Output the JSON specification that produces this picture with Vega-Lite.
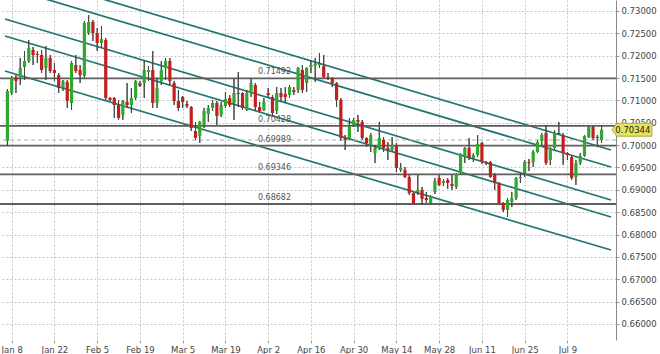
{
  "$schema": "https://vega.github.io/schema/vega-lite/v6.json",
  "width": 616,
  "height": 340,
  "autosize": "none",
  "padding": {"left": 0, "top": 0, "right": 44, "bottom": 14},
  "background": "white",
  "config": {
    "view": {"stroke": null},
    "axis": {
      "gridColor": "#c4c4c4",
      "gridDash": [2, 2],
      "gridWidth": 1,
      "labelFont": "DejaVu Sans",
      "labelFontSize": 8.5,
      "labelColor": "#444444",
      "tickColor": "#999999",
      "tickSize": 3,
      "labelPadding": 2,
      "labelOverlap": false,
      "labelBound": false,
      "labelFlush": false
    },
    "axisY": {"tickCount": 15}
  },
  "datasets": {
    "candles": [
      {"i": -1, "o": 0.70092, "h": 0.71255, "l": 0.69980, "c": 0.71211},
      {"i": 0, "o": 0.71166, "h": 0.71546, "l": 0.71121, "c": 0.71501},
      {"i": 1, "o": 0.71523, "h": 0.71568, "l": 0.71166, "c": 0.71434},
      {"i": 2, "o": 0.71501, "h": 0.71949, "l": 0.71344, "c": 0.71725},
      {"i": 3, "o": 0.71747, "h": 0.72105, "l": 0.71456, "c": 0.71882},
      {"i": 4, "o": 0.71882, "h": 0.72351, "l": 0.71837, "c": 0.72172},
      {"i": 5, "o": 0.72128, "h": 0.72195, "l": 0.71792, "c": 0.72016},
      {"i": 6, "o": 0.72038, "h": 0.72105, "l": 0.71837, "c": 0.72016},
      {"i": 7, "o": 0.72016, "h": 0.72128, "l": 0.71613, "c": 0.71680},
      {"i": 8, "o": 0.71725, "h": 0.72217, "l": 0.71456, "c": 0.71949},
      {"i": 9, "o": 0.71949, "h": 0.72016, "l": 0.71613, "c": 0.71658},
      {"i": 10, "o": 0.71680, "h": 0.71837, "l": 0.71434, "c": 0.71613},
      {"i": 11, "o": 0.71568, "h": 0.71613, "l": 0.71166, "c": 0.71277},
      {"i": 12, "o": 0.71277, "h": 0.71456, "l": 0.71211, "c": 0.71434},
      {"i": 13, "o": 0.71411, "h": 0.71456, "l": 0.70830, "c": 0.70987},
      {"i": 14, "o": 0.70942, "h": 0.71882, "l": 0.70785, "c": 0.71837},
      {"i": 15, "o": 0.71792, "h": 0.72016, "l": 0.71613, "c": 0.71658},
      {"i": 16, "o": 0.71680, "h": 0.71792, "l": 0.71389, "c": 0.71568},
      {"i": 17, "o": 0.71546, "h": 0.72777, "l": 0.71501, "c": 0.72732},
      {"i": 18, "o": 0.72508, "h": 0.72911, "l": 0.72463, "c": 0.72754},
      {"i": 19, "o": 0.72754, "h": 0.72799, "l": 0.72329, "c": 0.72508},
      {"i": 20, "o": 0.72508, "h": 0.72620, "l": 0.72105, "c": 0.72284},
      {"i": 21, "o": 0.72284, "h": 0.72665, "l": 0.72172, "c": 0.72374},
      {"i": 22, "o": 0.72351, "h": 0.72396, "l": 0.71009, "c": 0.71054},
      {"i": 23, "o": 0.71054, "h": 0.71076, "l": 0.70987, "c": 0.71009},
      {"i": 24, "o": 0.71054, "h": 0.71076, "l": 0.70606, "c": 0.70897},
      {"i": 25, "o": 0.70897, "h": 0.71009, "l": 0.70562, "c": 0.70606},
      {"i": 26, "o": 0.70674, "h": 0.71009, "l": 0.70562, "c": 0.70987},
      {"i": 27, "o": 0.70964, "h": 0.71389, "l": 0.70830, "c": 0.70897},
      {"i": 28, "o": 0.70897, "h": 0.71277, "l": 0.70718, "c": 0.71054},
      {"i": 29, "o": 0.71054, "h": 0.71456, "l": 0.71009, "c": 0.71434},
      {"i": 30, "o": 0.71389, "h": 0.71434, "l": 0.71300, "c": 0.71322},
      {"i": 31, "o": 0.71389, "h": 0.71882, "l": 0.71054, "c": 0.71680},
      {"i": 32, "o": 0.71635, "h": 0.71770, "l": 0.71434, "c": 0.71680},
      {"i": 33, "o": 0.71680, "h": 0.72105, "l": 0.70830, "c": 0.70942},
      {"i": 34, "o": 0.70942, "h": 0.71501, "l": 0.70830, "c": 0.71277},
      {"i": 35, "o": 0.71434, "h": 0.71882, "l": 0.71344, "c": 0.71680},
      {"i": 36, "o": 0.71725, "h": 0.71949, "l": 0.71456, "c": 0.71882},
      {"i": 37, "o": 0.71882, "h": 0.71949, "l": 0.71344, "c": 0.71434},
      {"i": 38, "o": 0.71389, "h": 0.71434, "l": 0.70897, "c": 0.70987},
      {"i": 39, "o": 0.70987, "h": 0.71233, "l": 0.70763, "c": 0.70830},
      {"i": 40, "o": 0.71076, "h": 0.71099, "l": 0.70830, "c": 0.70964},
      {"i": 41, "o": 0.70920, "h": 0.70987, "l": 0.70830, "c": 0.70875},
      {"i": 42, "o": 0.70852, "h": 0.70875, "l": 0.70316, "c": 0.70383},
      {"i": 43, "o": 0.70316, "h": 0.70517, "l": 0.70114, "c": 0.70159},
      {"i": 44, "o": 0.70204, "h": 0.70539, "l": 0.70047, "c": 0.70517},
      {"i": 45, "o": 0.70450, "h": 0.70830, "l": 0.70383, "c": 0.70763},
      {"i": 46, "o": 0.70696, "h": 0.70897, "l": 0.70517, "c": 0.70830},
      {"i": 47, "o": 0.70830, "h": 0.71009, "l": 0.70763, "c": 0.70942},
      {"i": 48, "o": 0.70942, "h": 0.70987, "l": 0.70450, "c": 0.70651},
      {"i": 49, "o": 0.70674, "h": 0.70964, "l": 0.70629, "c": 0.70897},
      {"i": 50, "o": 0.70875, "h": 0.71188, "l": 0.70830, "c": 0.71032},
      {"i": 51, "o": 0.71054, "h": 0.71121, "l": 0.70852, "c": 0.70897},
      {"i": 52, "o": 0.70942, "h": 0.71501, "l": 0.70562, "c": 0.71166},
      {"i": 53, "o": 0.71166, "h": 0.71635, "l": 0.70852, "c": 0.71144},
      {"i": 54, "o": 0.71166, "h": 0.71188, "l": 0.70785, "c": 0.70830},
      {"i": 55, "o": 0.70785, "h": 0.71233, "l": 0.70763, "c": 0.71166},
      {"i": 56, "o": 0.71166, "h": 0.71501, "l": 0.71076, "c": 0.71389},
      {"i": 57, "o": 0.71344, "h": 0.71389, "l": 0.70763, "c": 0.70852},
      {"i": 58, "o": 0.70852, "h": 0.70964, "l": 0.70718, "c": 0.70763},
      {"i": 59, "o": 0.70785, "h": 0.71054, "l": 0.70763, "c": 0.70964},
      {"i": 60, "o": 0.71166, "h": 0.71277, "l": 0.71054, "c": 0.71121},
      {"i": 61, "o": 0.71076, "h": 0.71121, "l": 0.70651, "c": 0.70718},
      {"i": 62, "o": 0.70763, "h": 0.71300, "l": 0.70696, "c": 0.71166},
      {"i": 63, "o": 0.71166, "h": 0.71277, "l": 0.70964, "c": 0.71076},
      {"i": 64, "o": 0.71144, "h": 0.71300, "l": 0.70942, "c": 0.71076},
      {"i": 65, "o": 0.71121, "h": 0.71344, "l": 0.71054, "c": 0.71300},
      {"i": 66, "o": 0.71233, "h": 0.71300, "l": 0.71121, "c": 0.71188},
      {"i": 67, "o": 0.71233, "h": 0.71747, "l": 0.71166, "c": 0.71725},
      {"i": 68, "o": 0.71680, "h": 0.71792, "l": 0.71166, "c": 0.71233},
      {"i": 69, "o": 0.71389, "h": 0.71747, "l": 0.71188, "c": 0.71725},
      {"i": 70, "o": 0.71747, "h": 0.71904, "l": 0.71613, "c": 0.71792},
      {"i": 71, "o": 0.71770, "h": 0.71949, "l": 0.71411, "c": 0.71814},
      {"i": 72, "o": 0.71792, "h": 0.72061, "l": 0.71725, "c": 0.71814},
      {"i": 73, "o": 0.71770, "h": 0.72016, "l": 0.71501, "c": 0.71523},
      {"i": 74, "o": 0.71523, "h": 0.71613, "l": 0.71456, "c": 0.71501},
      {"i": 75, "o": 0.71501, "h": 0.71523, "l": 0.71300, "c": 0.71389},
      {"i": 76, "o": 0.71389, "h": 0.71411, "l": 0.70852, "c": 0.71009},
      {"i": 77, "o": 0.71009, "h": 0.71054, "l": 0.70092, "c": 0.70159},
      {"i": 78, "o": 0.70159, "h": 0.70226, "l": 0.69890, "c": 0.70114},
      {"i": 79, "o": 0.70159, "h": 0.70606, "l": 0.70114, "c": 0.70427},
      {"i": 80, "o": 0.70450, "h": 0.70606, "l": 0.70405, "c": 0.70562},
      {"i": 81, "o": 0.70562, "h": 0.70674, "l": 0.70293, "c": 0.70517},
      {"i": 82, "o": 0.70517, "h": 0.70562, "l": 0.70114, "c": 0.70159},
      {"i": 83, "o": 0.70159, "h": 0.70181, "l": 0.69957, "c": 0.70047},
      {"i": 84, "o": 0.70003, "h": 0.70271, "l": 0.69845, "c": 0.70226},
      {"i": 85, "o": 0.69823, "h": 0.70003, "l": 0.69600, "c": 0.69935},
      {"i": 86, "o": 0.69935, "h": 0.70517, "l": 0.69890, "c": 0.70159},
      {"i": 87, "o": 0.70114, "h": 0.70181, "l": 0.69845, "c": 0.69935},
      {"i": 88, "o": 0.69935, "h": 0.70069, "l": 0.69667, "c": 0.69890},
      {"i": 89, "o": 0.69890, "h": 0.70181, "l": 0.69845, "c": 0.70003},
      {"i": 90, "o": 0.70003, "h": 0.70047, "l": 0.69398, "c": 0.69488},
      {"i": 91, "o": 0.69443, "h": 0.69600, "l": 0.69398, "c": 0.69488},
      {"i": 92, "o": 0.69443, "h": 0.69510, "l": 0.69264, "c": 0.69287},
      {"i": 93, "o": 0.69287, "h": 0.69331, "l": 0.68884, "c": 0.68929},
      {"i": 94, "o": 0.68929, "h": 0.68951, "l": 0.68660, "c": 0.68683},
      {"i": 95, "o": 0.68951, "h": 0.69331, "l": 0.68884, "c": 0.68996},
      {"i": 96, "o": 0.68996, "h": 0.69063, "l": 0.68660, "c": 0.68794},
      {"i": 97, "o": 0.68817, "h": 0.68951, "l": 0.68705, "c": 0.68772},
      {"i": 98, "o": 0.68705, "h": 0.68884, "l": 0.68660, "c": 0.68862},
      {"i": 99, "o": 0.68951, "h": 0.69264, "l": 0.68906, "c": 0.69197},
      {"i": 100, "o": 0.69264, "h": 0.69331, "l": 0.69084, "c": 0.69107},
      {"i": 101, "o": 0.69152, "h": 0.69242, "l": 0.69084, "c": 0.69197},
      {"i": 102, "o": 0.69219, "h": 0.69264, "l": 0.69018, "c": 0.69152},
      {"i": 103, "o": 0.69130, "h": 0.69331, "l": 0.68996, "c": 0.69084},
      {"i": 104, "o": 0.69063, "h": 0.69376, "l": 0.69018, "c": 0.69354},
      {"i": 105, "o": 0.69376, "h": 0.69823, "l": 0.69331, "c": 0.69801},
      {"i": 106, "o": 0.69734, "h": 0.69957, "l": 0.69600, "c": 0.69935},
      {"i": 107, "o": 0.69935, "h": 0.70159, "l": 0.69667, "c": 0.69712},
      {"i": 108, "o": 0.69712, "h": 0.69823, "l": 0.69622, "c": 0.69778},
      {"i": 109, "o": 0.69778, "h": 0.70226, "l": 0.69734, "c": 0.70025},
      {"i": 110, "o": 0.70047, "h": 0.70069, "l": 0.69577, "c": 0.69622},
      {"i": 111, "o": 0.69622, "h": 0.69645, "l": 0.69555, "c": 0.69600},
      {"i": 112, "o": 0.69622, "h": 0.69645, "l": 0.69264, "c": 0.69287},
      {"i": 113, "o": 0.69331, "h": 0.69376, "l": 0.68996, "c": 0.69152},
      {"i": 114, "o": 0.69152, "h": 0.69174, "l": 0.68660, "c": 0.68705},
      {"i": 115, "o": 0.68705, "h": 0.68727, "l": 0.68504, "c": 0.68548},
      {"i": 116, "o": 0.68548, "h": 0.68817, "l": 0.68392, "c": 0.68772},
      {"i": 117, "o": 0.68727, "h": 0.68951, "l": 0.68615, "c": 0.68817},
      {"i": 118, "o": 0.68817, "h": 0.69286, "l": 0.68772, "c": 0.69264},
      {"i": 119, "o": 0.69264, "h": 0.69376, "l": 0.69152, "c": 0.69286},
      {"i": 120, "o": 0.69376, "h": 0.69667, "l": 0.69286, "c": 0.69622},
      {"i": 121, "o": 0.69622, "h": 0.69689, "l": 0.69420, "c": 0.69600},
      {"i": 122, "o": 0.69622, "h": 0.69890, "l": 0.69510, "c": 0.69846},
      {"i": 123, "o": 0.69846, "h": 0.70114, "l": 0.69823, "c": 0.70069},
      {"i": 124, "o": 0.70092, "h": 0.70271, "l": 0.70003, "c": 0.70226},
      {"i": 125, "o": 0.70271, "h": 0.70450, "l": 0.69555, "c": 0.69600},
      {"i": 126, "o": 0.69667, "h": 0.69957, "l": 0.69555, "c": 0.69935},
      {"i": 127, "o": 0.69935, "h": 0.70338, "l": 0.69890, "c": 0.70271},
      {"i": 128, "o": 0.70271, "h": 0.70517, "l": 0.70226, "c": 0.70249},
      {"i": 129, "o": 0.70226, "h": 0.70271, "l": 0.69555, "c": 0.69823},
      {"i": 130, "o": 0.69823, "h": 0.69846, "l": 0.69667, "c": 0.69778},
      {"i": 131, "o": 0.69734, "h": 0.69778, "l": 0.69219, "c": 0.69264},
      {"i": 132, "o": 0.69286, "h": 0.69667, "l": 0.69107, "c": 0.69600},
      {"i": 133, "o": 0.69600, "h": 0.69823, "l": 0.69555, "c": 0.69757},
      {"i": 134, "o": 0.69757, "h": 0.70226, "l": 0.69734, "c": 0.70204},
      {"i": 135, "o": 0.70181, "h": 0.70450, "l": 0.70159, "c": 0.70405},
      {"i": 136, "o": 0.70405, "h": 0.70450, "l": 0.70114, "c": 0.70159},
      {"i": 137, "o": 0.70181, "h": 0.70226, "l": 0.69957, "c": 0.70159},
      {"i": 138, "o": 0.70114, "h": 0.70450, "l": 0.70047, "c": 0.70344}
    ],
    "channels": [
      {"i1": -1.565, "p1": 0.73917, "i2": 140.2, "p2": 0.69890},
      {"i1": -1.565, "p1": 0.73537, "i2": 140.2, "p2": 0.69510},
      {"i1": -1.565, "p1": 0.72821, "i2": 140.2, "p2": 0.68772},
      {"i1": -1.565, "p1": 0.72441, "i2": 140.2, "p2": 0.68392},
      {"i1": -1.565, "p1": 0.71658, "i2": 140.2, "p2": 0.67653}
    ],
    "levels": [
      {"p": 0.71492, "label": "0.71492"},
      {"p": 0.70428, "label": "0.70428"},
      {"p": 0.69989, "label": "0.69989"},
      {"p": 0.69346, "label": "0.69346"},
      {"p": 0.68682, "label": "0.68682"}
    ],
    "ask": [{"p": 0.70114}],
    "last": [{"i": 140.43, "it": 141.2, "p": 0.70344, "label": "0.70344"}]
  },
  "layer": [
    {
      "data": {"name": "candles"},
      "mark": {"type": "rule", "color": "#444444", "strokeWidth": 1},
      "encoding": {
        "x": {
          "field": "i", "type": "quantitative", "title": null,
          "scale": {"domain": [-1.565, 140.2], "nice": false, "zero": false},
          "axis": {
            "orient": "bottom",
            "values": [0, 10, 20, 30, 40, 50, 60, 70, 80, 90, 100, 110, 120, 130],
            "labelExpr": "['Jan 8','Jan 22','Feb 5','Feb 19','Mar 5','Mar 19','Apr 2','Apr 16','Apr 30','May 14','May 28','Jun 11','Jun 25','Jul 9'][round(datum.value/10)]",
            "domain": false,
            "grid": true,
            "labelOverlap": false
          }
        },
        "y": {
          "field": "l", "type": "quantitative", "title": null,
          "scale": {"domain": [0.6564, 0.73246], "nice": false, "zero": false},
          "axis": {
            "orient": "right",
            "values": [0.66, 0.665, 0.67, 0.675, 0.68, 0.685, 0.69, 0.695, 0.7, 0.705, 0.71, 0.715, 0.72, 0.725, 0.73],
            "tickCount": 15,
            "format": ".5f",
            "domain": true,
            "domainColor": "#8a8a8a",
            "grid": true,
            "labelOverlap": false
          }
        },
        "y2": {"field": "h"}
      }
    },
    {
      "data": {"name": "channels"},
      "mark": {"type": "rule", "color": "#217570", "strokeWidth": 1.7, "clip": true},
      "encoding": {
        "x": {"field": "i1", "type": "quantitative", "title": null},
        "x2": {"field": "i2"},
        "y": {"field": "p1", "type": "quantitative", "title": null},
        "y2": {"field": "p2"}
      }
    },
    {
      "data": {"name": "ask"},
      "mark": {"type": "rule", "color": "#aaaaaa", "strokeWidth": 1, "strokeDash": [4, 3]},
      "encoding": {
        "y": {"field": "p", "type": "quantitative", "title": null}
      }
    },
    {
      "data": {"name": "levels"},
      "mark": {"type": "rule", "color": "#5e5e5e", "strokeWidth": 1.8},
      "encoding": {
        "y": {"field": "p", "type": "quantitative", "title": null}
      }
    },
    {
      "data": {"name": "levels"},
      "mark": {"type": "text", "align": "left", "baseline": "bottom", "dy": -2, "font": "DejaVu Sans", "fontSize": 8, "color": "#555555"},
      "encoding": {
        "x": {"datum": 57.6, "type": "quantitative"},
        "y": {"field": "p", "type": "quantitative", "title": null},
        "text": {"field": "label"}
      }
    },
    {
      "data": {"name": "candles"},
      "mark": {"type": "rule", "color": "#444444", "strokeWidth": 1},
      "encoding": {
        "x": {"field": "i", "type": "quantitative", "title": null},
        "y": {"field": "l", "type": "quantitative", "title": null},
        "y2": {"field": "h"}
      }
    },
    {
      "data": {"name": "candles"},
      "mark": {"type": "bar", "size": 3.2, "stroke": null},
      "encoding": {
        "x": {"field": "i", "type": "quantitative", "title": null},
        "y": {"field": "o", "type": "quantitative", "title": null},
        "y2": {"field": "c"},
        "color": {
          "condition": {"test": "datum.c >= datum.o", "value": "#2fa82f"},
          "value": "#c41e1e"
        }
      }
    },
    {
      "data": {"name": "last"},
      "mark": {
        "type": "point",
        "shape": "M0,0L0.25,-0.34L2.1,-0.34L2.1,0.34L0.25,0.34Z",
        "size": 1444,
        "filled": true,
        "fill": "#e4e45c",
        "stroke": "#a9a93e",
        "strokeWidth": 1,
        "opacity": 1
      },
      "encoding": {
        "x": {"field": "i", "type": "quantitative", "title": null},
        "y": {"field": "p", "type": "quantitative", "title": null}
      }
    },
    {
      "data": {"name": "last"},
      "mark": {"type": "text", "align": "left", "baseline": "middle", "font": "DejaVu Sans", "fontSize": 8.5, "color": "#222222"},
      "encoding": {
        "x": {"field": "it", "type": "quantitative", "title": null},
        "y": {"field": "p", "type": "quantitative", "title": null},
        "text": {"field": "label"}
      }
    }
  ]
}
